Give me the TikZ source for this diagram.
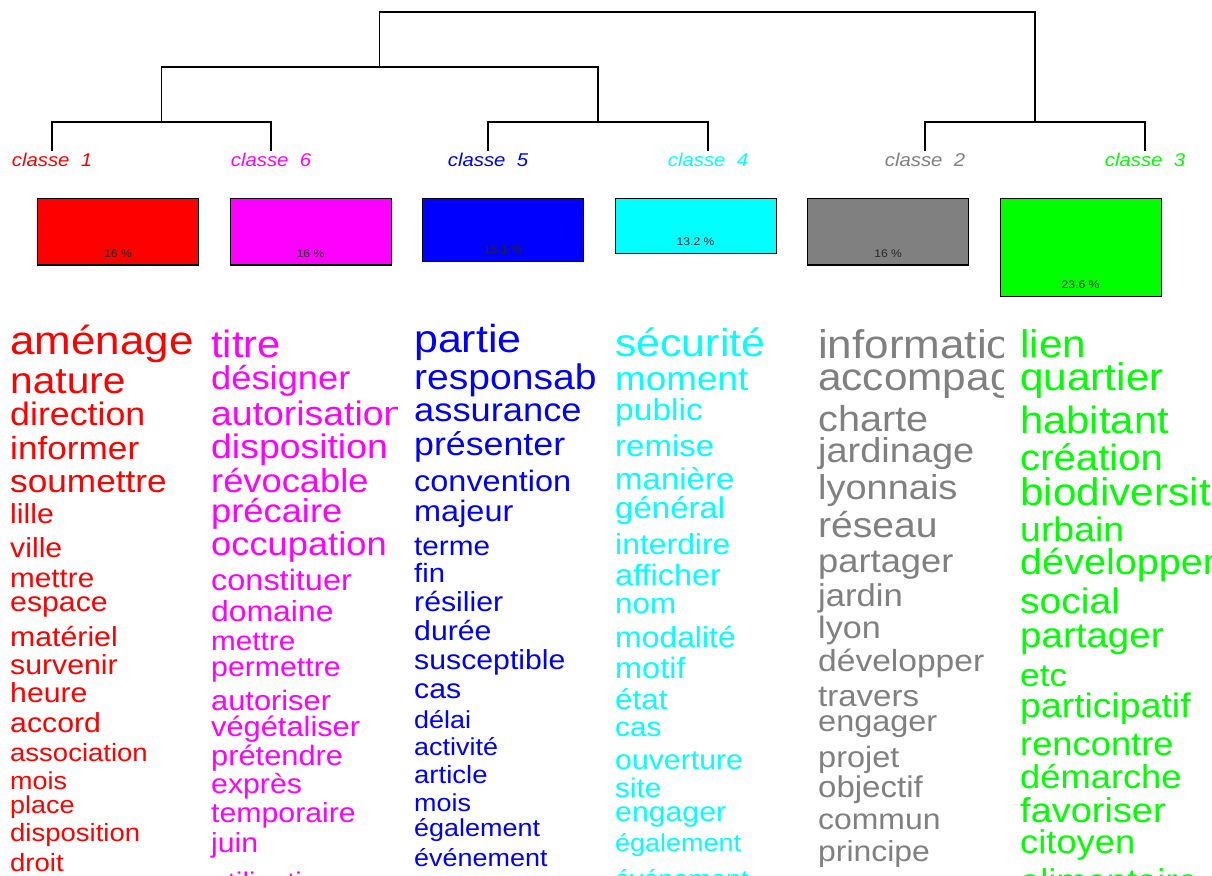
\documentclass[tikz,border=0pt]{standalone}
\usepackage{fontspec}
\setmainfont{Liberation Sans}[FakeStretch=1.1]
\usetikzlibrary{calc}
\definecolor{mag}{RGB}{255,0,255}
\definecolor{cya}{RGB}{0,255,255}
\definecolor{vert}{RGB}{0,255,0}
\definecolor{gris}{RGB}{128,128,128}
\tikzset{
  wrd/.style={anchor=mid west, inner sep=0pt, yshift=-7pt},
  sz/.style={font=\fontsize{#1}{#1}\selectfont},
  cls/.style={anchor=north, inner sep=0pt, font=\fontsize{18.5}{18.5}\selectfont\itshape},
  bar/.style={draw=black, line width=1.1pt, anchor=north west, minimum width=161pt, minimum height=#1, inner sep=0pt},
  pct/.style={inner sep=0pt, font=\fontsize{11}{11}\selectfont, text=black!85}
}

\begin{document}
\begin{tikzpicture}[x=1pt, y=-1pt]
        \useasboundingbox (0,0) rectangle (1212,875);
        \fill[white] (0,0) rectangle (1212,875);

        % dendrogramme
        \node[cls, text=red] (k1) at (52,153) {classe\ \ 1};
        \node[cls, text=mag] (k6) at (271,153) {classe\ \ 6};
        \node[cls, text=blue] (k5) at (488,153) {classe\ \ 5};
        \node[cls, text=cya] (k4) at (708,153) {classe\ \ 4};
        \node[cls, text=gris] (k2) at (925,153) {classe\ \ 2};
        \node[cls, text=vert] (k3) at (1145,153) {classe\ \ 3};
        \coordinate (j16) at (161.5,122);
        \coordinate (j54) at (598,122);
        \coordinate (j23) at (1035,122);
        \coordinate (j1654) at (379.75,67);
        \begin{scope}[line width=1.3pt]
        \draw ([yshift=2pt]k1.north) |- (j16) -| ([yshift=2pt]k6.north);
        \draw ([yshift=2pt]k5.north) |- (j54) -| ([yshift=2pt]k4.north);
        \draw ([yshift=2pt]k2.north) |- (j23) -| ([yshift=2pt]k3.north);
        \draw (j16) |- (j1654) -| (j54);
        \draw (j1654) -- ++(0,-55) -| (j23);
        \end{scope}

        % pourcentages
        \node[bar=66.4pt, fill=red] (p1) at (37,198) {};
        \node[bar=66.4pt, fill=mag] (p6) at (229.5,198) {};
        \node[bar=62.7pt, fill=blue] (p5) at (422,198) {};
        \node[bar=54.8pt, fill=cya] (p4) at (614.5,198) {};
        \node[bar=66.4pt, fill=gris] (p2) at (807,198) {};
        \node[bar=97.9pt, fill=vert] (p3) at (999.5,198) {};
        \node[pct] (t1) at ([yshift=12pt]p1.south) {16 \%};
        \node[pct] (t6) at ([yshift=12pt]p6.south) {16 \%};
        \node[pct] (t5) at ([yshift=12pt]p5.south) {15.1 \%};
        \node[pct] (t4) at ([yshift=12pt]p4.south) {13.2 \%};
        \node[pct] (t2) at ([yshift=12pt]p2.south) {16 \%};
        \node[pct] (t3) at ([yshift=12pt]p3.south) {23.6 \%};

        % classe 1
        \begin{scope}[text=red]
        \clip (0,300) rectangle (193,875);
        \node[wrd, sz=40] (r1) at (10,345) {aménager};
        \node[wrd, sz=37] (r2) at (10,384) {nature};
        \node[wrd, sz=32.5] (r3) at (10,416) {direction};
        \node[wrd, sz=32] (r4) at (10,450) {informer};
        \node[wrd, sz=32] (r5) at (10,483) {soumettre};
        \node[wrd, sz=27.5] (r6) at (10,514) {lille};
        \node[wrd, sz=27.5] (r7) at (10,548) {ville};
        \node[wrd, sz=27] (r8) at (10,578) {mettre};
        \node[wrd, sz=27.5] (r9) at (10,602) {espace};
        \node[wrd, sz=27.5] (r10) at (10,637) {matériel};
        \node[wrd, sz=27.5] (r11) at (10,665) {survenir};
        \node[wrd, sz=27.5] (r12) at (10,693) {heure};
        \node[wrd, sz=27.5] (r13) at (10,723) {accord};
        \node[wrd, sz=25] (r14) at (10,752) {association};
        \node[wrd, sz=24.5] (r15) at (10,780) {mois};
        \node[wrd, sz=24.5] (r16) at (10,804) {place};
        \node[wrd, sz=25] (r17) at (10,832) {disposition};
        \node[wrd, sz=25] (r18) at (10,862) {droit};
        \end{scope}

        % classe 6
        \begin{scope}[text=mag]
        \clip (200,300) rectangle (397,875);
        \node[wrd, sz=38] (m1) at (211,348) {titre};
        \node[wrd, sz=33] (m2) at (211,380) {désigner};
        \node[wrd, sz=34] (m3) at (211,416) {autorisation};
        \node[wrd, sz=34] (m4) at (211,449) {disposition};
        \node[wrd, sz=33] (m5) at (211,483) {révocable};
        \node[wrd, sz=33] (m6) at (211,513) {précaire};
        \node[wrd, sz=33] (m7) at (211,546) {occupation};
        \node[wrd, sz=29.5] (m8) at (211,581) {constituer};
        \node[wrd, sz=29] (m9) at (211,612) {domaine};
        \node[wrd, sz=27] (m10) at (211,641) {mettre};
        \node[wrd, sz=27.5] (m11) at (211,667) {permettre};
        \node[wrd, sz=28] (m12) at (211,701) {autoriser};
        \node[wrd, sz=28] (m13) at (211,727) {végétaliser};
        \node[wrd, sz=28] (m14) at (211,756) {prétendre};
        \node[wrd, sz=27.5] (m15) at (211,784) {exprès};
        \node[wrd, sz=27.5] (m16) at (211,813) {temporaire};
        \node[wrd, sz=27.5] (m17) at (211,843) {juin};
        \node[wrd, sz=27] (m18) at (211,882) {utilisation};
        \end{scope}

        % classe 5
        \begin{scope}[text=blue]
        \clip (400,300) rectangle (598,875);
        \node[wrd, sz=39] (b1) at (414,343) {partie};
        \node[wrd, sz=35.5] (b2) at (414,380) {responsabilité};
        \node[wrd, sz=33] (b3) at (414,412) {assurance};
        \node[wrd, sz=32.5] (b4) at (414,446) {présenter};
        \node[wrd, sz=29.5] (b5) at (414,482) {convention};
        \node[wrd, sz=29.5] (b6) at (414,512) {majeur};
        \node[wrd, sz=27] (b7) at (414,546) {terme};
        \node[wrd, sz=26.5] (b8) at (414,573) {fin};
        \node[wrd, sz=27.5] (b9) at (414,602) {résilier};
        \node[wrd, sz=27.5] (b10) at (414,631) {durée};
        \node[wrd, sz=27.5] (b11) at (414,660) {susceptible};
        \node[wrd, sz=27.5] (b12) at (414,689) {cas};
        \node[wrd, sz=24.5] (b13) at (414,719) {délai};
        \node[wrd, sz=24.5] (b14) at (414,746) {activité};
        \node[wrd, sz=25] (b15) at (414,774) {article};
        \node[wrd, sz=24.5] (b16) at (414,802) {mois};
        \node[wrd, sz=24.5] (b17) at (414,827) {également};
        \node[wrd, sz=24.5] (b18) at (414,857) {événement};
        \end{scope}

        % classe 4
        \begin{scope}[text=cya]
        \clip (600,300) rectangle (801,875);
        \node[wrd, sz=39] (c1) at (615,347) {sécurité};
        \node[wrd, sz=33.5] (c2) at (615,381) {moment};
        \node[wrd, sz=30.5] (c3) at (615,411) {public};
        \node[wrd, sz=30] (c4) at (615,447) {remise};
        \node[wrd, sz=30] (c5) at (615,480) {manière};
        \node[wrd, sz=30] (c6) at (615,509) {général};
        \node[wrd, sz=29] (c7) at (615,545) {interdire};
        \node[wrd, sz=29.5] (c8) at (615,576) {afficher};
        \node[wrd, sz=28.5] (c9) at (615,604) {nom};
        \node[wrd, sz=29] (c10) at (615,638) {modalité};
        \node[wrd, sz=29.5] (c11) at (615,669) {motif};
        \node[wrd, sz=28.5] (c12) at (615,700) {état};
        \node[wrd, sz=27] (c13) at (615,727) {cas};
        \node[wrd, sz=27.5] (c14) at (615,760) {ouverture};
        \node[wrd, sz=27] (c15) at (615,788) {site};
        \node[wrd, sz=27.5] (c16) at (615,812) {engager};
        \node[wrd, sz=24.5] (c17) at (615,842) {également};
        \node[wrd, sz=24.5] (c18) at (615,878) {événement};
        \end{scope}

        % classe 2
        \begin{scope}[text=gris]
        \clip (805,300) rectangle (1003,875);
        \node[wrd, sz=40] (g1) at (818,349) {information};
        \node[wrd, sz=38.5] (g2) at (818,381) {accompagner};
        \node[wrd, sz=36] (g3) at (818,422) {charte};
        \node[wrd, sz=34.5] (g4) at (818,453) {jardinage};
        \node[wrd, sz=34.5] (g5) at (818,490) {lyonnais};
        \node[wrd, sz=35.5] (g6) at (818,528) {réseau};
        \node[wrd, sz=33] (g7) at (818,563) {partager};
        \node[wrd, sz=31.5] (g8) at (818,597) {jardin};
        \node[wrd, sz=31] (g9) at (818,629) {lyon};
        \node[wrd, sz=30.5] (g10) at (818,662) {développer};
        \node[wrd, sz=30] (g11) at (818,697) {travers};
        \node[wrd, sz=29.5] (g12) at (818,722) {engager};
        \node[wrd, sz=29.5] (g13) at (818,758) {projet};
        \node[wrd, sz=30] (g14) at (818,788) {objectif};
        \node[wrd, sz=29] (g15) at (818,820) {commun};
        \node[wrd, sz=29] (g16) at (818,852) {principe};
        \end{scope}

        % classe 3
        \begin{scope}[text=vert]
        \clip (1008,300) rectangle (1212,875);
        \node[wrd, sz=38.5] (v1) at (1020,348) {lien};
        \node[wrd, sz=38.5] (v2) at (1020,381) {quartier};
        \node[wrd, sz=38] (v3) at (1020,424) {habitant};
        \node[wrd, sz=36.5] (v4) at (1020,461) {création};
        \node[wrd, sz=38.5] (v5) at (1020,496) {biodiversité};
        \node[wrd, sz=34] (v6) at (1020,532) {urbain};
        \node[wrd, sz=36] (v7) at (1020,565) {développement};
        \node[wrd, sz=35.5] (v8) at (1020,604) {social};
        \node[wrd, sz=35] (v9) at (1020,638) {partager};
        \node[wrd, sz=32] (v10) at (1020,677) {etc};
        \node[wrd, sz=34] (v11) at (1020,708) {participatif};
        \node[wrd, sz=33] (v12) at (1020,746) {rencontre};
        \node[wrd, sz=33] (v13) at (1020,779) {démarche};
        \node[wrd, sz=34.5] (v14) at (1020,813) {favoriser};
        \node[wrd, sz=33] (v15) at (1020,844) {citoyen};
        \node[wrd, sz=33] (v16) at (1020,883) {alimentaire};
        \end{scope}
\end{tikzpicture}
\end{document}
